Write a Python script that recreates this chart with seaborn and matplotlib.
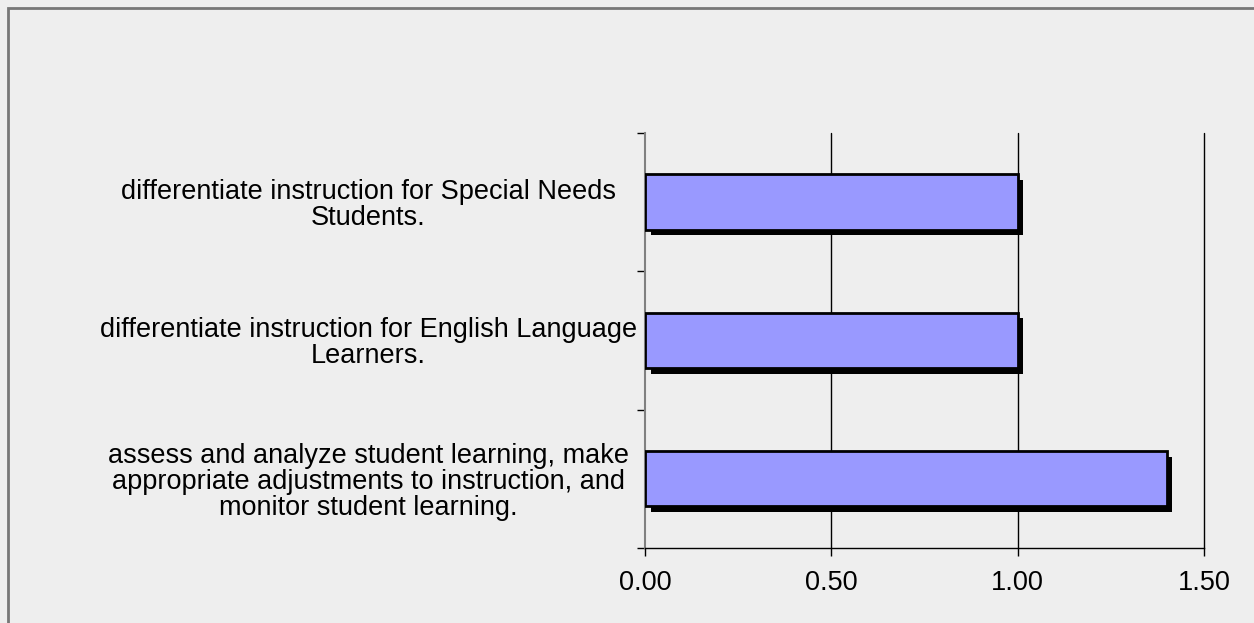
import matplotlib
matplotlib.use("Agg")
import matplotlib.pyplot as plt
import matplotlib.patheffects as pe
from matplotlib.patches import Rectangle
from matplotlib.ticker import FixedLocator, FormatStrFormatter
import seaborn as sns
import pandas as pd

# Survey items (as wrapped on the chart) and their mean scores
items = [
    "differentiate instruction for Special Needs\nStudents.",
    "differentiate instruction for English Language\nLearners.",
    "assess and analyze student learning, make\nappropriate adjustments to instruction, and\nmonitor student learning.",
]
scores = [1.00, 1.00, 1.40]
x_ticks = [0.00, 0.50, 1.00, 1.50]

bg = "#eeeeee"
sns.set_theme(style="white")
plt.rcParams["font.family"] = ["Liberation Sans", "DejaVu Sans"]
plt.rcParams["text.color"] = "black"
plt.rcParams["xtick.labelcolor"] = "black"
plt.rcParams["ytick.labelcolor"] = "black"

fig = plt.figure(figsize=(12.54, 6.23), dpi=100, facecolor=bg)
W, H = 1254, 623
ax = fig.add_axes([645 / W, 1 - 548 / H, (1204 - 645) / W, (548 - 132.7) / H])
ax.set_facecolor(bg)

# Outer chart frame (left and top edges visible)
fig.patches.append(Rectangle((8 / W, -0.1), 1.2, (1 - 8 / H) + 0.1,
                             transform=fig.transFigure, fill=False,
                             edgecolor="#777777", linewidth=2, zorder=0))

df = pd.DataFrame({"item": items, "score": scores})
sns.barplot(data=df, x="score", y="item", orient="h", width=0.4,
            color="#9999ff", saturation=1, edgecolor="black", linewidth=2,
            ax=ax, zorder=3)

for bar in ax.patches:
    bar.set_path_effects([
        pe.SimplePatchShadow(offset=(4, -4), shadow_rgbFace="black", alpha=1.0),
        pe.Normal(),
    ])

ax.set_xlim(0, 1.5)
ax.set_ylim(len(items) - 0.5, -0.5)
ax.xaxis.set_major_locator(FixedLocator(x_ticks))
ax.xaxis.set_major_formatter(FormatStrFormatter("%.2f"))
ax.set_xlabel("")
ax.set_ylabel("")

# Vertical gridlines
for v in x_ticks[1:]:
    ax.axvline(v, color="black", linewidth=1, zorder=1, clip_on=False)

for side in ("top", "right"):
    ax.spines[side].set_visible(False)
ax.spines["left"].set_color("#808080")
ax.spines["left"].set_linewidth(1.5)
ax.spines["bottom"].set_color("black")
ax.spines["bottom"].set_linewidth(1)

ax.tick_params(axis="x", which="major", direction="out", length=6, width=1,
               color="black", labelsize=19.5, pad=10, bottom=True)
ax.yaxis.set_minor_locator(FixedLocator([-0.5, 0.5, 1.5, 2.5]))
ax.tick_params(axis="y", which="minor", direction="out", length=6, width=1,
               color="black", left=True)
ax.tick_params(axis="y", which="major", length=0, labelsize=19.5, pad=199)
for lab in ax.get_yticklabels():
    lab.set_horizontalalignment("center")
    lab.set_multialignment("center")
    lab.set_linespacing(1.0)

fig.savefig("out.png", dpi=100, facecolor=bg)
